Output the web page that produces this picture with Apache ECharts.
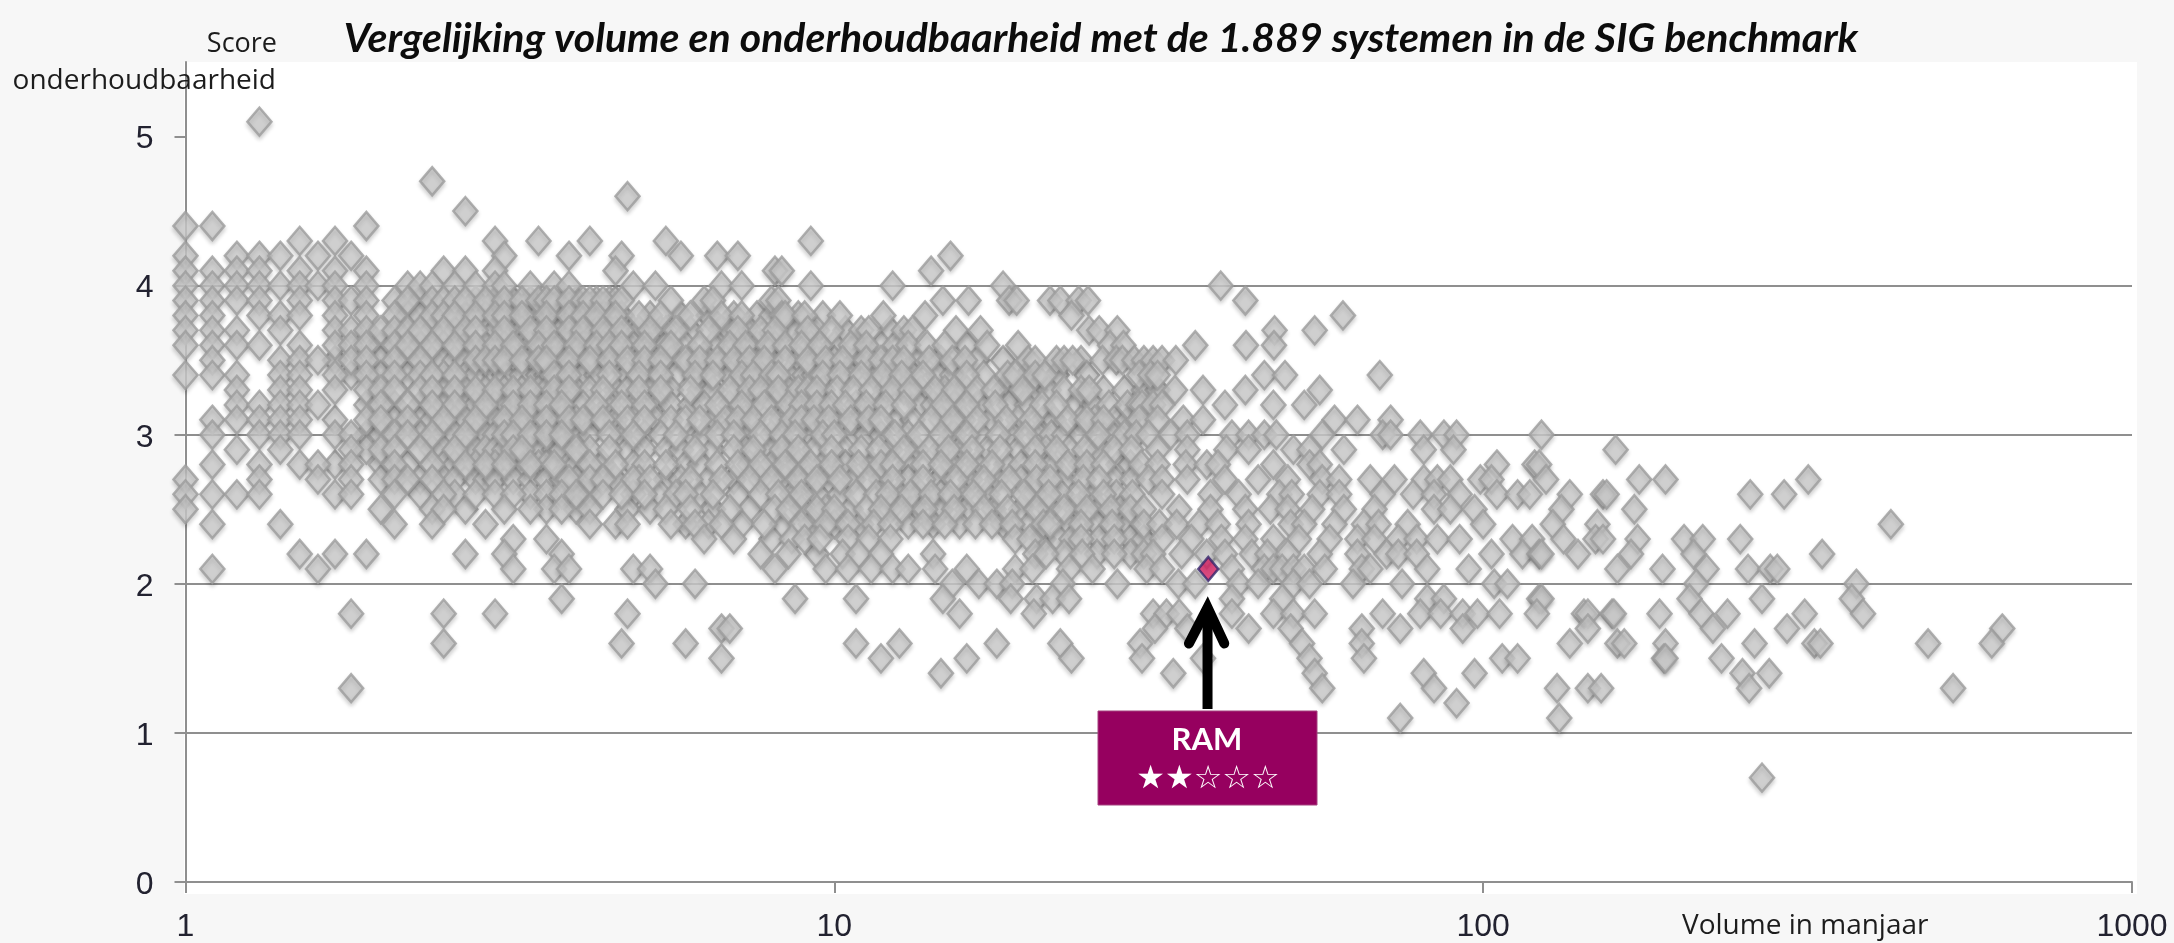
<!DOCTYPE html>
<html>
<head>
<meta charset="utf-8">
<title>SIG benchmark</title>
<script src="https://cdn.jsdelivr.net/npm/echarts@6/dist/echarts.min.js"></script>
<style>
  html, body { margin: 0; height: 100%; background: #f7f7f7; }
  #main { width: 2174px; height: 943px; }
</style>
</head>
<body>
<div id="main"></div>
<script>
// scores in steps of 0.1, volumes (manjaar) per score
const scores = [5.1, 4.7, 4.6, 4.5, 4.4, 4.3, 4.2, 4.1, 4.0, 3.9, 3.8, 3.7, 3.6, 3.5, 3.4, 3.3, 3.2, 3.1, 3.0, 2.9, 2.8, 2.7, 2.6, 2.5, 2.4, 2.3, 2.2, 2.1, 2.0, 1.9, 1.8, 1.7, 1.6, 1.5, 1.4, 1.3, 1.2, 1.1, 0.7];
const volumes = [
  [1.3],
  [2.4],
  [4.8],
  [2.7],
  [1.0, 1.1, 1.9],
  [1.5, 1.7, 3.0, 3.5, 4.2, 5.5, 9.2],
  [1.0, 1.2, 1.3, 1.4, 1.6, 1.8, 3.1, 3.9, 4.7, 5.8, 6.6, 7.1, 15.1],
  [1.0, 1.1, 1.2, 1.3, 1.5, 1.7, 1.9, 2.5, 2.7, 3.0, 4.6, 8.1, 8.3, 14.1],
  [1.0, 1.1, 1.2, 1.3, 1.4, 1.5, 1.6, 1.7, 1.9, 2.2, 2.3, 2.4, 2.6, 2.8, 3.0, 3.1, 3.4, 3.7, 3.9, 4.9, 5.3, 6.7, 7.2, 9.2, 12.3, 18.2, 39.4],
  [1.0, 1.1, 1.2, 1.3, 1.5, 1.7, 1.8, 1.9, 2.1, 2.2, 2.4, 2.5, 2.6, 2.7, 2.9, 3.1, 3.3, 3.5, 3.6, 3.7, 3.9, 4.1, 4.2, 4.4, 4.7, 5.6, 6.3, 6.5, 8.0, 8.2, 14.7, 16.1, 18.6, 19.1, 21.5, 22.3, 23.8, 24.6, 43],
  [1.0, 1.1, 1.3, 1.4, 1.5, 1.7, 1.9, 2.1, 2.4, 2.5, 2.6, 2.8, 3.0, 3.1, 3.3, 3.6, 3.9, 4.1, 4.3, 4.6, 5.0, 5.4, 6.0, 6.7, 7.2, 8.3, 8.4, 9.0, 10.2, 11.9, 13.8, 23.2, 60.8],
  [1.0, 1.1, 1.2, 1.4, 1.7, 1.8, 1.9, 2.0, 2.1, 2.2, 2.3, 2.5, 2.7, 2.8, 3.1, 3.4, 3.6, 3.9, 4.1, 4.4, 4.7, 5.2, 5.7, 6.4, 7.1, 7.7, 8.1, 9.1, 9.9, 11.0, 11.3, 12.8, 13.2, 15.4, 16.8, 24.7, 25.6, 27.3, 47.7, 55],
  [1.0, 1.1, 1.2, 1.3, 1.5, 1.7, 1.8, 1.9, 2.1, 2.2, 2.4, 2.6, 2.8, 3.0, 3.2, 3.5, 3.7, 4.0, 4.3, 4.5, 4.7, 5.1, 5.6, 6.2, 6.9, 7.3, 7.9, 8.4, 8.9, 9.5, 10.6, 11.2, 13.0, 13.9, 14.8, 17.2, 19.2, 26.6, 27.9, 36, 43.1, 47.6],
  [1.1, 1.4, 1.5, 1.6, 1.8, 1.9, 2.1, 2.3, 2.8, 2.9, 3.0, 3.1, 3.3, 3.5, 3.6, 3.9, 4.2, 4.5, 4.8, 5.1, 5.4, 5.9, 6.2, 6.6, 7.0, 7.4, 7.8, 8.4, 9.1, 9.7, 10.3, 11.2, 11.8, 12.3, 12.8, 14.0, 15.2, 15.9, 19.9, 20.4, 22.0, 22.6, 23.3, 25.9, 27.2, 27.8, 29.0, 30, 31, 32, 33.6],
  [1.0, 1.1, 1.2, 1.4, 1.5, 1.7, 1.9, 2.1, 2.3, 2.4, 2.6, 3.7, 3.9, 4.5, 5.0, 5.4, 6.1, 6.5, 7.2, 7.5, 8.0, 8.2, 9.6, 10.2, 11.0, 11.9, 12.7, 13.7, 16.0, 18.5, 19, 20.4, 21.1, 29.5, 30.7, 31.5, 46, 49.5, 69.3],
  [1.2, 1.4, 1.5, 1.7, 1.9, 2.0, 2.1, 2.3, 2.4, 2.6, 2.8, 3.0, 3.2, 3.4, 3.7, 3.9, 4.4, 5.0, 5.4, 6.0, 6.9, 7.4, 7.7, 8.2, 8.8, 9.1, 9.4, 10.1, 10.7, 11.4, 12.3, 13.1, 14.3, 15.3, 16.6, 17.6, 19.5, 22.6, 24.0, 24.7, 33.5, 37, 43, 56],
  [1.2, 1.3, 1.4, 1.5, 1.6, 2.0, 2.2, 2.4, 2.6, 2.9, 3.2, 3.4, 3.6, 3.8, 4.3, 4.7, 5.1, 6.6, 7.2, 7.8, 8.5, 8.9, 9.4, 9.9, 10.4, 11.2, 12.0, 12.8, 14.7, 16.0, 17.7, 20.9, 22.0, 28.3, 29.4, 29.8, 31, 32, 40, 47.5, 53],
  [1.1, 1.2, 1.3, 1.4, 1.5, 1.9, 2.0, 2.2, 2.5, 2.8, 3.1, 3.3, 3.6, 3.9, 4.1, 4.4, 4.8, 5.1, 5.9, 6.2, 6.8, 7.1, 7.5, 8.0, 8.6, 8.9, 9.3, 9.8, 10.6, 11.3, 11.8, 14.1, 15.2, 16.6, 18.4, 20.1, 22.9, 24.5, 26.0, 29.5, 31.5, 34.5, 37, 59, 64, 72],
  [1.1, 1.3, 1.4, 1.5, 1.7, 1.8, 2.1, 2.2, 2.4, 2.7, 3.1, 3.2, 3.4, 3.6, 3.8, 4.5, 4.9, 5.7, 6.6, 7.0, 7.7, 8.3, 8.7, 9.6, 10.0, 12.4, 13.5, 14.6, 16.0, 17.9, 19.7, 25.5, 28.0, 29.2, 30.5, 33, 35, 41, 43.5, 46, 48, 56.5, 70, 72, 80, 87, 91, 123],
  [1.2, 1.4, 1.8, 2.0, 2.1, 2.3, 2.6, 3.2, 3.3, 4.0, 4.5, 6.1, 7.0, 7.5, 8.3, 8.8, 9.9, 11.0, 11.7, 12.8, 14.0, 15.0, 16.3, 18.0, 20.4, 22.0, 24.3, 27.0, 28.7, 31.5, 35, 40.2, 43.5, 51, 54, 61, 81, 90, 160],
  [1.1, 1.3, 1.5, 1.6, 1.8, 2.1, 2.4, 2.7, 2.9, 3.1, 3.4, 3.7, 4.2, 4.6, 5.5, 6.6, 7.1, 7.7, 8.4, 9.2, 9.9, 10.9, 11.8, 12.3, 13.7, 14.6, 16.0, 17.5, 20.4, 22.9, 24.5, 26.0, 29.7, 31.5, 34.8, 37.5, 39, 47.5, 54, 56, 105, 120, 122],
  [1.0, 1.3, 1.6, 1.8, 2.1, 2.2, 2.4, 3.9, 4.2, 4.4, 4.9, 5.2, 6.0, 6.7, 7.4, 8.0, 8.8, 9.4, 10.2, 11.3, 12.3, 13.7, 15.4, 17.0, 18.6, 20.5, 21.5, 24.2, 25.6, 30.5, 32, 35, 40, 45, 50, 56.5, 60, 67, 73, 81, 85, 89, 99, 103, 125, 174, 191, 317],
  [1.0, 1.1, 1.2, 1.3, 1.7, 1.8, 2.1, 2.5, 2.8, 3.0, 3.2, 3.8, 4.0, 4.4, 4.7, 5.1, 5.7, 5.9, 6.5, 7.7, 8.2, 8.9, 10.8, 11.6, 12.1, 13.1, 14.1, 15.1, 16.4, 18.1, 19.6, 21.4, 23.8, 26.0, 28.8, 32, 38, 42, 48.5, 50.7, 56, 60, 70, 78, 84, 92, 105, 113, 118, 136, 153, 155, 258, 291],
  [1.0, 2.0, 2.4, 2.5, 3.1, 3.4, 3.8, 4.2, 5.5, 6.0, 6.9, 8.1, 8.5, 9.4, 10.0, 11.2, 11.8, 12.7, 13.8, 15.3, 17.0, 18.5, 20.5, 22.6, 24.5, 26.7, 28.6, 30, 34, 38, 43, 47, 50, 54.5, 61, 68, 84, 89, 97, 132, 171],
  [1.1, 1.4, 2.1, 2.4, 2.9, 4.2, 4.6, 4.8, 5.6, 6.1, 6.7, 7.8, 8.9, 9.7, 10.5, 11.5, 12.2, 13.7, 14.8, 16.5, 17.5, 18.8, 21, 21.5, 24, 26.8, 30, 31.7, 33.7, 36.5, 39, 43.5, 50.5, 53, 59, 65.5, 69, 76.5, 100, 128, 150, 425],
  [3.2, 3.6, 6.3, 7.0, 8.6, 9.0, 9.5, 10.5, 11.3, 12.2, 19, 20, 24, 27, 32, 35.5, 39.5, 43, 47.5, 52, 58, 64, 68, 74, 79, 85, 92, 111, 119, 133, 149, 153, 173, 204, 218, 249],
  [1.5, 1.7, 1.9, 2.7, 3.1, 3.8, 7.7, 8.5, 10.3, 10.9, 11.8, 14.2, 20.4, 21.2, 24.1, 27, 30, 31, 34.3, 37.5, 40, 44, 46.5, 50, 56, 64, 71, 74, 79, 103, 115, 122, 123, 140, 169, 211, 333],
  [1.1, 1.6, 3.2, 3.7, 3.9, 4.9, 5.2, 8.1, 9.7, 10.5, 11.4, 12.3, 13, 14.3, 16, 19, 20.2, 23, 25, 30.3, 32, 41, 46, 47.5, 49, 51, 53, 57, 65, 67, 82, 95, 161, 189, 221, 256, 277, 284],
  [5.3, 6.1, 15.2, 16.7, 17.8, 18.8, 22.5, 27.3, 33.9, 36, 42, 45, 51, 54, 63, 75, 104, 109, 213, 376],
  [3.8, 8.7, 10.8, 14.7, 18.7, 20.5, 21.7, 23, 41, 49, 82, 87, 122, 123, 208, 269, 370],
  [1.8, 2.5, 3.0, 4.8, 15.6, 20.3, 31, 32.5, 34, 41, 47.5, 51, 55, 70, 80, 86, 93, 98, 106, 121, 143, 145, 158, 159, 187, 217, 238, 313, 385],
  [6.7, 6.9, 31.2, 35, 43.5, 50.5, 65, 74.5, 93, 145, 226, 294, 631],
  [2.5, 4.7, 5.9, 10.8, 12.6, 17.8, 22.3, 29.6, 52.6, 65, 136, 161, 165, 191, 262, 324, 331, 485, 608],
  [6.7, 11.8, 16, 23.2, 29.8, 37, 54, 65.5, 107, 113, 190, 191, 233],
  [14.6, 33.3, 55, 81, 97, 251, 276],
  [1.8, 56.5, 84, 130, 145, 152, 257, 530],
  [91],
  [74.5, 131],
  [269]
];
// dense middle band: the overlapping marks, estimated per score
const bandScores = [3.9, 3.8, 3.7, 3.6, 3.5, 3.4, 3.3, 3.2, 3.1, 3.0, 2.9, 2.8, 2.7, 2.6, 2.5, 2.4, 2.3, 2.2];
const bandVolumes = [
  [2.3, 2.8, 3.0, 3.2, 3.4, 3.8, 4.0, 4.3, 4.5, 4.6],
  [2.2, 2.3, 2.7, 2.9, 3.2, 3.4, 3.5, 3.7, 3.8, 4.0, 4.2, 4.4, 4.5, 4.7, 5.2, 5.8, 6.4, 7.0, 7.6, 8.0, 8.8, 9.6],
  [2.4, 2.6, 3.0, 3.2, 3.3, 3.5, 3.7, 3.8, 4.0, 4.2, 4.3, 4.5, 4.6, 4.9, 5.0, 5.4, 5.5, 6.0, 6.7, 6.9, 7.4, 8.4, 8.7, 9.4, 10.4, 12.2],
  [2.0, 2.3, 2.5, 2.7, 2.9, 3.1, 3.3, 3.4, 3.6, 3.8, 3.9, 4.1, 4.2, 4.4, 4.6, 4.9, 5.3, 5.5, 5.9, 6.5, 7.1, 7.6, 8.1, 9.2, 10.0, 10.9, 11.8, 12.4, 16.0],
  [1.7, 2.0, 2.2, 2.4, 2.5, 2.6, 2.7, 3.2, 3.4, 3.7, 3.8, 4.0, 4.1, 4.3, 4.6, 5.0, 5.2, 5.6, 6.0, 6.4, 6.8, 7.2, 7.6, 8.0, 8.8, 9.4, 10.0, 10.8, 13.4, 14.6, 16.6, 18.2, 24.0],
  [1.8, 2.0, 2.2, 2.5, 2.7, 2.8, 3.0, 3.1, 3.3, 3.5, 3.6, 3.8, 4.1, 4.3, 4.8, 5.2, 5.7, 6.3, 6.9, 7.7, 8.5, 9.0, 9.3, 10.6, 11.5, 12.3, 13.2, 14.4, 15.2, 17.0, 19.8, 22.0, 24.5],
  [2.5, 2.7, 2.9, 3.1, 3.3, 3.5, 3.6, 3.8, 4.0, 4.2, 4.6, 4.8, 5.2, 5.6, 6.2, 6.5, 7.1, 8.0, 8.5, 9.6, 12.0, 12.8, 13.6, 14.8, 16.0, 18.2, 18.8, 20.4, 21.4, 26.0, 28.0, 30, 31.5],
  [1.9, 2.1, 2.3, 2.5, 2.7, 2.8, 3.0, 3.1, 3.3, 3.5, 3.7, 3.9, 4.0, 4.1, 4.5, 4.9, 5.3, 5.6, 6.0, 6.3, 6.9, 7.5, 8.1, 9.2, 9.6, 10.8, 11.6, 13.5, 14.2, 15.3, 16.8, 18.6, 19.8, 23.5, 25, 26.5],
  [1.7, 2.1, 2.3, 2.4, 2.6, 2.7, 2.9, 3.0, 3.2, 3.4, 3.5, 3.7, 3.8, 4.0, 4.3, 4.6, 5.3, 5.6, 6.5, 7.3, 8.3, 9.0, 10.2, 11.0, 12.5, 13.2, 14.6, 15.8, 17.4, 19.2, 21, 21.8, 24, 25.2, 27, 28.4],
  [1.9, 2.0, 2.3, 2.5, 2.6, 2.8, 2.9, 3.0, 3.3, 3.5, 3.7, 3.9, 4.0, 4.2, 4.7, 5.1, 5.4, 6.0, 6.3, 7.3, 8.0, 9.2, 10.6, 11.2, 11.8, 13, 15.3, 16.8, 18.8, 20.6, 21.6, 22.6, 24, 26.8],
  [1.9, 2.4, 2.5, 2.7, 2.8, 2.9, 3.0, 3.1, 3.4, 3.5, 3.7, 3.8, 4.2, 4.8, 5.1, 5.5, 5.8, 6.5, 7.3, 8.0, 8.5, 9.3, 10.4, 12.2, 13.4, 14.6, 15.6, 17.2, 19.2, 21.2, 23, 25.5],
  [1.7, 2.0, 2.2, 2.5, 2.6, 2.8, 3.0, 3.2, 3.3, 3.5, 3.6, 3.9, 4.0, 4.4, 4.9, 5.1, 5.9, 6.2, 7.4, 8.0, 8.8, 9.6, 10.4, 11.4, 13, 15.2, 16.6, 18.4, 19.4, 21.6, 24, 27.4, 28.6],
  [2.0, 2.3, 2.5, 2.6, 2.8, 2.9, 3.0, 3.2, 3.4, 3.6, 3.8, 4.0, 4.6, 5.0, 5.5, 5.8, 6.4, 7.0, 7.7, 8.4, 9.1, 9.8, 10.7, 11.8, 13, 14.5, 16.2, 17.8, 19.4, 22.6, 27, 28.8],
  [2.3, 2.6, 3.4, 3.6, 4.1, 4.2, 4.9, 5.4, 6.2, 7.1, 8.6, 9.4, 10.2, 12.6, 13.6, 14.6, 15.8, 17.2, 20.4, 22.4, 24.8, 27.2],
  [2.7, 3.6, 4.0, 4.8, 5.2, 6.5, 7.4, 8.9, 9.7, 10.6, 12.2, 13.3, 14.6, 16, 17.6, 19.4, 21.4, 23.6, 25.6, 27.6],
  [5.9, 6.4, 7.2, 8.3, 9.2, 10.0, 11.0, 13, 14.2, 15.6, 18.2, 20, 23, 25.4, 28.4],
  [8.0, 21, 22.2, 23.2, 25.6, 28.6, 30],
  [9.4, 22.6, 25.4, 28.6]
];
// RAM itself, and the arrow pointing at it
const ramPoint = [37.7, 2.1];
const arrowShaft = [[37.6, 1.16], [37.6, 1.8]];
const arrowHead = [[35.2, 1.6], [37.6, 1.84], [39.9, 1.6]];
const xTicks = [1, 10, 100, 1000];
const yTicks = [0, 1, 2, 3, 4, 5];

let points = [];
function addRows(rowScores, rowVolumes) {
  for (let i = 0; i < rowScores.length; i++) {
    for (let k = 0; k < rowVolumes[i].length; k++) {
      points.push([rowVolumes[i][k], rowScores[i]]);
    }
  }
}
addRows(bandScores, bandVolumes);
addRows(scores, volumes);

const lineGrey = "#8f8f8f";
const myChart = echarts.init(document.getElementById("main"), null, { renderer: "canvas" });

const option = {
  animation: false,
  backgroundColor: "#f7f7f7",
  textStyle: { fontFamily: "Liberation Sans" },
  title: {
    text: "Vergelijking volume en onderhoudbaarheid met de 1.889 systemen in de SIG benchmark",
    left: 1096,
    top: 13,
    textAlign: "center",
    textStyle: { fontFamily: "Lato", fontStyle: "italic", fontWeight: "bold", fontSize: 41, color: "#0c0c0c" }
  },
  grid: { left: 185.5, right: 42, top: 62, bottom: 59 },
  xAxis: {
    type: "log",
    logBase: 10,
    min: 1,
    max: 1000,
    axisLine: { onZero: false, lineStyle: { color: lineGrey, width: 2 } },
    axisTick: { show: true, length: 11, lineStyle: { color: lineGrey, width: 2 } },
    minorTick: { show: false },
    splitLine: { show: false },
    axisLabel: {
      margin: 29,
      fontSize: 32,
      color: "#222230",
      formatter: function (v) { return xTicks.indexOf(v) >= 0 ? String(v) : ""; }
    }
  },
  yAxis: {
    type: "value",
    min: 0,
    max: 5.5,
    interval: 1,
    axisLine: { show: true, lineStyle: { color: lineGrey, width: 2 } },
    axisTick: { show: true, length: 11, lineStyle: { color: lineGrey, width: 2 }, customValues: yTicks },
    splitLine: { show: true, showMaxLine: false, lineStyle: { color: lineGrey, width: 2 } },
    axisLabel: { margin: 32, fontSize: 32, color: "#222230", verticalAlign: "top", lineHeight: 6, customValues: yTicks }
  },
  series: [
    {
      name: "Systemen",
      type: "scatter",
      data: points,
      symbol: "diamond",
      symbolSize: [24, 28],
      progressive: 0,
      itemStyle: {
        color: "#cdcdcd",
        borderColor: "#9c9c9c",
        borderWidth: 2.5,
        shadowBlur: 4,
        shadowColor: "rgba(0,0,0,0.2)",
        shadowOffsetY: 3
      },
      z: 3
    },
    {
      name: "RAM",
      type: "scatter",
      data: [ramPoint],
      symbol: "diamond",
      symbolSize: [20, 24],
      itemStyle: { color: "#cf1a5c", borderColor: "#33256b", borderWidth: 2.5 },
      z: 4
    },
    {
      name: "pijl",
      type: "line",
      data: arrowShaft,
      symbol: "none",
      silent: true,
      lineStyle: { color: "#000", width: 10, cap: "butt" },
      z: 5
    },
    {
      name: "pijlkop",
      type: "line",
      data: arrowHead,
      symbol: "none",
      silent: true,
      lineStyle: { color: "#000", width: 10, cap: "round", join: "miter" },
      z: 5
    }
  ],
  graphic: [
    {
      type: "rect",
      silent: true,
      z: -1,
      shape: { x: 184, y: 62, width: 1953, height: 832 },
      style: { fill: "#ffffff" }
    },
    {
      type: "rect",
      z: 20,
      shape: { x: 1098, y: 711, width: 219, height: 94 },
      style: { fill: "#96005f", stroke: "#a4417f", lineWidth: 1 }
    },
    {
      type: "text",
      z: 21,
      style: { x: 1207, y: 740, text: "RAM", fill: "#fff", textAlign: "center", textVerticalAlign: "middle", font: "bold 31px Lato" }
    },
    {
      type: "text",
      z: 21,
      style: { x: 1208, y: 780, text: "★★☆☆☆", fill: "#fff", textAlign: "center", textVerticalAlign: "middle", font: "32px 'DejaVu Sans'" }
    },
    {
      type: "text",
      z: 21,
      style: { x: 277, y: 44, text: "Score", fill: "#1c1c1c", textAlign: "right", textVerticalAlign: "middle", font: "27px 'Open Sans'" }
    },
    {
      type: "text",
      z: 21,
      style: { x: 276, y: 81, text: "onderhoudbaarheid", fill: "#1c1c1c", textAlign: "right", textVerticalAlign: "middle", font: "28px 'Open Sans'" }
    },
    {
      type: "text",
      z: 21,
      style: { x: 1682, y: 926, text: "Volume in manjaar", fill: "#1c1c1c", textAlign: "left", textVerticalAlign: "middle", font: "28px 'Open Sans'" }
    }
  ]
};
myChart.setOption(option);
</script>
</body>
</html>
